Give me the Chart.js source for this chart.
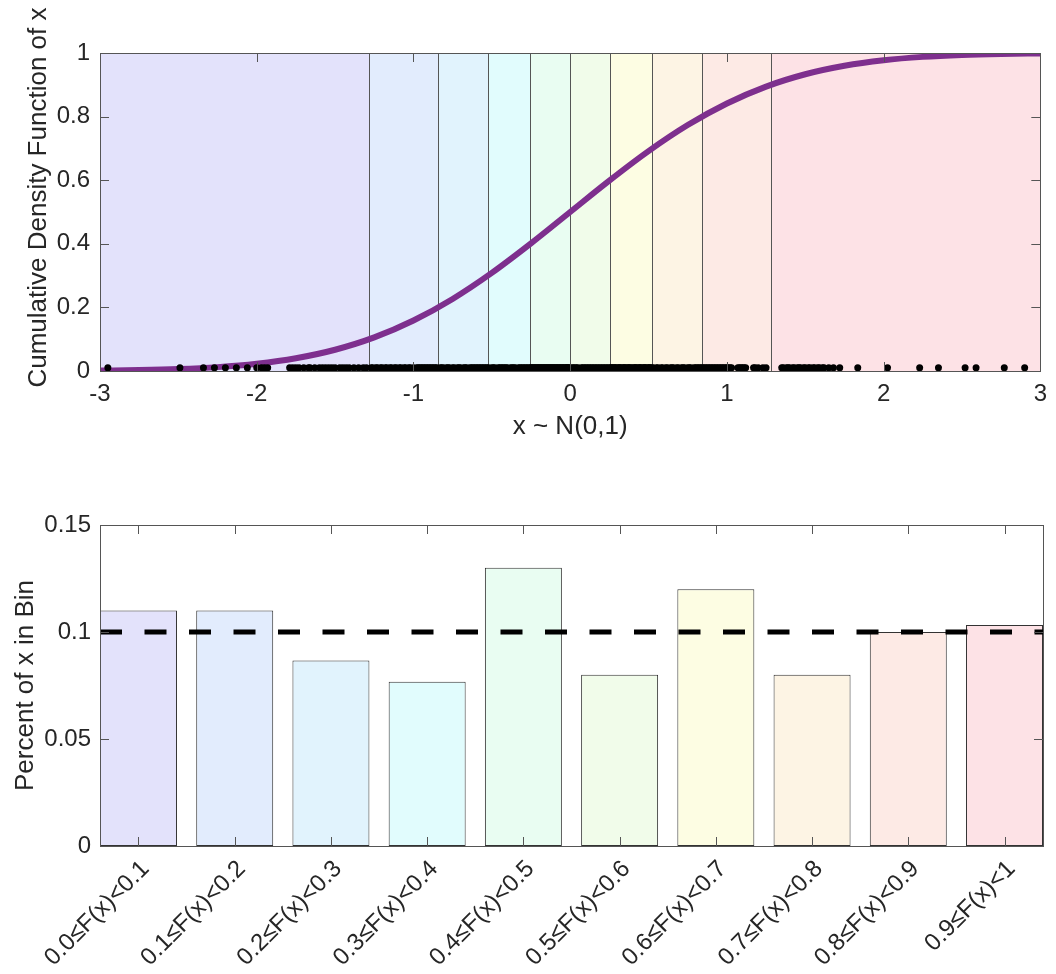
<!DOCTYPE html>
<html>
<head>
<meta charset="utf-8">
<title>Probability integral transform</title>
<script src="https://cdn.jsdelivr.net/npm/chart.js@4.4.1/dist/chart.umd.min.js"></script>
<style>
  html, body { margin: 0; padding: 0; background: #fff; }
  #wrap { position: relative; width: 1056px; height: 974px; }
  canvas { position: absolute; left: 0; }
  #cdfChart { top: 0; }
  #binChart { top: 460px; }
</style>
</head>
<body>
<div id="wrap">
  <canvas id="cdfChart" width="1056" height="460"></canvas>
  <canvas id="binChart" width="1056" height="514"></canvas>
</div>
<script>
// 299 draws of x ~ N(0,1), shown as dots along the bottom of the CDF panel
const samples = [
  -2.95, -2.49, -2.34, -2.27, -2.20, -2.13, -2.06, -2.00, -1.97, -1.95, -1.93,
  -1.79, -1.77, -1.75, -1.73, -1.70, -1.67, -1.66, -1.63, -1.60, -1.58, -1.56,
  -1.54, -1.52, -1.50, -1.47, -1.45, -1.43, -1.41, -1.38, -1.35, -1.32, -1.30,
  -1.27, -1.26, -1.24, -1.23, -1.21, -1.20, -1.18, -1.17, -1.15, -1.14, -1.12,
  -1.11, -1.09, -1.08, -1.06, -1.05, -1.03, -1.02, -1.00, -0.98, -0.97, -0.96,
  -0.95, -0.94, -0.93, -0.92, -0.91, -0.90, -0.89, -0.88, -0.87, -0.86, -0.85,
  -0.83, -0.82, -0.81, -0.79, -0.78, -0.77, -0.75, -0.74, -0.72, -0.71, -0.70,
  -0.68, -0.67, -0.66, -0.64, -0.63, -0.62, -0.61, -0.60, -0.59, -0.58, -0.57,
  -0.56, -0.55, -0.54, -0.53,
  -0.52, -0.50, -0.49, -0.48, -0.46, -0.45, -0.44, -0.43, -0.42, -0.41, -0.40,
  -0.38, -0.37, -0.36, -0.35, -0.33, -0.32, -0.31, -0.30, -0.29, -0.28, -0.27, -0.26,
  -0.25, -0.245, -0.24, -0.23, -0.225, -0.22, -0.21, -0.205, -0.20, -0.19, -0.185,
  -0.18, -0.17, -0.165, -0.16, -0.15, -0.145, -0.14, -0.13, -0.125, -0.12, -0.11,
  -0.105, -0.10, -0.09, -0.085, -0.08, -0.07, -0.065, -0.06, -0.05, -0.045, -0.04,
  -0.03, -0.025, -0.02, -0.015, -0.01, -0.005,
  0.01, 0.02, 0.03, 0.04, 0.05, 0.07, 0.08, 0.09, 0.10, 0.11, 0.12, 0.13, 0.14,
  0.15, 0.16, 0.17, 0.18, 0.19, 0.20, 0.21, 0.22, 0.23, 0.24, 0.25,
  0.26, 0.265, 0.27, 0.28, 0.285, 0.29, 0.30, 0.31, 0.315, 0.32, 0.33, 0.34,
  0.345, 0.35, 0.36, 0.37, 0.375, 0.38, 0.39, 0.40, 0.41, 0.415, 0.42, 0.43,
  0.44, 0.445, 0.45, 0.46, 0.47, 0.475, 0.48, 0.49, 0.50, 0.505, 0.51, 0.52,
  0.53, 0.55, 0.56, 0.58, 0.59, 0.61, 0.62, 0.64, 0.65, 0.66, 0.68, 0.69,
  0.71, 0.72, 0.73, 0.75, 0.76, 0.77, 0.79, 0.80, 0.81, 0.82, 0.83, 0.84,
  0.85, 0.86, 0.87, 0.88, 0.89, 0.90, 0.91, 0.92, 0.93, 0.94, 0.95, 0.96,
  0.97, 0.98, 0.99, 1.00, 1.01, 1.02, 1.03, 1.07, 1.08, 1.09, 1.10, 1.11,
  1.12, 1.17, 1.18, 1.20, 1.23, 1.25,
  1.35, 1.36, 1.38, 1.39, 1.40, 1.42, 1.43, 1.45, 1.46, 1.47, 1.49, 1.50,
  1.52, 1.53, 1.55, 1.56, 1.58, 1.59, 1.61, 1.62, 1.65, 1.68, 1.72,
  1.835, 2.025, 2.23, 2.35, 2.52, 2.59, 2.77, 2.90
];
const dotLevel = 0.01;

// standard normal CDF, tabulated every quarter unit
const cdfX = [-3, -2.75, -2.5, -2.25, -2, -1.75, -1.5, -1.25, -1, -0.75, -0.5, -0.25,
  0, 0.25, 0.5, 0.75, 1, 1.25, 1.5, 1.75, 2, 2.25, 2.5, 2.75, 3];
const cdfY = [0.0013, 0.0030, 0.0062, 0.0122, 0.0228, 0.0401, 0.0668, 0.1056, 0.1587,
  0.2266, 0.3085, 0.4013, 0.5, 0.5987, 0.6915, 0.7734, 0.8413, 0.8944, 0.9332,
  0.9599, 0.9772, 0.9878, 0.9938, 0.9970, 0.9987];

// decile edges of N(0,1) and the shade used for each bin
const binEdges = [-3, -1.2816, -0.8416, -0.5244, -0.2533, 0, 0.2533, 0.5244, 0.8416, 1.2816, 3];
const binColors = ['#e3e2fb', '#e2ecfd', '#e1f3fd', '#e1fcfd', '#e9fdf2',
  '#f1fcea', '#fdfde3', '#fdf4e4', '#fdeae5', '#fde2e6'];

const binLabels = ['0.0≤F(x)<0.1', '0.1≤F(x)<0.2', '0.2≤F(x)<0.3', '0.3≤F(x)<0.4',
  '0.4≤F(x)<0.5', '0.5≤F(x)<0.6', '0.6≤F(x)<0.7', '0.7≤F(x)<0.8',
  '0.8≤F(x)<0.9', '0.9≤F(x)<1'];
const binShare = [0.11, 0.11, 0.0867, 0.0767, 0.13, 0.08, 0.12, 0.08, 0.10, 0.1033];
const expectedShare = 0.1;

const cdfXTicks = [-3, -2, -1, 0, 1, 2, 3];
const cdfYTicks = [0, 0.2, 0.4, 0.6, 0.8, 1];
const shareTicks = [0, 0.05, 0.1, 0.15];

Chart.defaults.font.family = '"Liberation Sans", Arial, Helvetica, sans-serif';
Chart.defaults.color = '#262626';

const edgeColor = '#555';
const tickLen = 9;

// axes box with inward tick marks on all four sides
const boxAxes = {
  id: 'boxAxes',
  afterDatasetsDraw(chart) {
    const { ctx, chartArea: a, scales: { x, y } } = chart;
    ctx.save();
    ctx.strokeStyle = edgeColor;
    ctx.lineWidth = 1;
    ctx.beginPath();
    x.ticks.forEach((t, i) => {
      const px = Math.round(x.getPixelForTick(i)) + 0.5;
      ctx.moveTo(px, a.bottom); ctx.lineTo(px, a.bottom - tickLen);
      ctx.moveTo(px, a.top); ctx.lineTo(px, a.top + tickLen);
    });
    y.ticks.forEach((t, i) => {
      const py = Math.round(y.getPixelForTick(i)) + 0.5;
      ctx.moveTo(a.left, py); ctx.lineTo(a.left + tickLen, py);
      ctx.moveTo(a.right, py); ctx.lineTo(a.right - tickLen, py);
    });
    ctx.stroke();
    ctx.strokeRect(Math.round(a.left) + 0.5, Math.round(a.top) + 0.5,
      Math.round(a.right - a.left), Math.round(a.bottom - a.top));
    ctx.restore();
  }
};

// shaded bins behind the CDF, split at the deciles
const bandShading = {
  id: 'bandShading',
  beforeDatasetsDraw(chart) {
    const { ctx, chartArea: a, scales: { x } } = chart;
    ctx.save();
    for (let i = 0; i < binColors.length; i++) {
      const x0 = x.getPixelForValue(binEdges[i]);
      const x1 = x.getPixelForValue(binEdges[i + 1]);
      ctx.fillStyle = binColors[i];
      ctx.fillRect(x0, a.top, x1 - x0, a.bottom - a.top);
    }
    ctx.strokeStyle = edgeColor;
    ctx.lineWidth = 1;
    ctx.beginPath();
    for (let i = 1; i < binEdges.length - 1; i++) {
      const px = Math.round(x.getPixelForValue(binEdges[i])) + 0.5;
      ctx.moveTo(px, a.top); ctx.lineTo(px, a.bottom);
    }
    ctx.stroke();
    ctx.restore();
  }
};

// dashed reference line at the uniform share
const expectedLine = {
  id: 'expectedLine',
  afterDatasetsDraw(chart) {
    const { ctx, chartArea: a, scales: { y } } = chart;
    const py = y.getPixelForValue(expectedShare);
    ctx.save();
    ctx.strokeStyle = '#000';
    ctx.lineWidth = 5;
    ctx.setLineDash([22, 22.5]);
    ctx.beginPath();
    ctx.moveTo(a.left, py);
    ctx.lineTo(a.right, py);
    ctx.stroke();
    ctx.restore();
  }
};

const tickFont = { size: 24 };
const titleFont = { size: 26 };
const fixedTicks = list => scale => { scale.ticks = list.map(v => ({ value: v })); };
const plainNumber = v => String(+Number(v).toFixed(4));

new Chart(document.getElementById('cdfChart'), {
  type: 'scatter',
  data: {
    datasets: [
      {
        type: 'scatter',
        data: samples.map(v => ({ x: v, y: dotLevel })),
        pointRadius: 3.5,
        pointBorderWidth: 0,
        backgroundColor: '#000',
        pointBackgroundColor: '#000'
      },
      {
        type: 'line',
        data: cdfX.map((v, i) => ({ x: v, y: cdfY[i] })),
        borderColor: '#7E2F8E',
        borderWidth: 6,
        pointRadius: 0,
        cubicInterpolationMode: 'monotone',
        fill: false
      }
    ]
  },
  options: {
    responsive: false,
    animation: false,
    devicePixelRatio: 1,
    layout: { padding: { top: 53, right: 13, left: 0, bottom: 0 } },
    plugins: { legend: { display: false }, tooltip: { enabled: false } },
    scales: {
      x: {
        type: 'linear', min: -3, max: 3,
        grid: { display: false, drawTicks: false },
        border: { display: false },
        afterBuildTicks: fixedTicks(cdfXTicks),
        ticks: { font: tickFont, padding: 9, callback: plainNumber },
        title: { display: true, text: 'x ~ N(0,1)', font: titleFont, padding: { top: 0, bottom: 18 } },
        afterFit: s => { s.height = 89; }
      },
      y: {
        min: 0, max: 1,
        grid: { display: false, drawTicks: false },
        border: { display: false },
        afterBuildTicks: fixedTicks(cdfYTicks),
        ticks: { font: tickFont, padding: 10, callback: plainNumber },
        title: { display: true, text: '    Cumulative Density Function of x', font: titleFont, padding: { top: 23, bottom: 0 } },
        afterFit: s => { s.width = 100; }
      }
    }
  },
  plugins: [bandShading, boxAxes]
});

// bins sit at positions 1..10 on a tight linear axis, bar width 0.8
new Chart(document.getElementById('binChart'), {
  type: 'bar',
  data: {
    datasets: [{
      data: binShare.map((v, i) => ({ x: i + 1, y: v })),
      backgroundColor: binColors,
      borderColor: '#333',
      borderWidth: 1,
      borderSkipped: false,
      barPercentage: 0.8,
      categoryPercentage: 1
    }]
  },
  options: {
    responsive: false,
    animation: false,
    devicePixelRatio: 1,
    layout: { padding: { top: 65, right: 13, left: 0, bottom: 0 } },
    plugins: { legend: { display: false }, tooltip: { enabled: false } },
    scales: {
      x: {
        type: 'linear', min: 0.6, max: 10.4, offset: false,
        grid: { display: false, drawTicks: false },
        border: { display: false },
        afterBuildTicks: fixedTicks(binLabels.map((l, i) => i + 1)),
        ticks: {
          font: tickFont, minRotation: 45, maxRotation: 45, autoSkip: false,
          padding: 9, labelOffset: 7,
          callback: v => binLabels[Math.round(v) - 1]
        },
        afterFit: s => { s.height = 128; }
      },
      y: {
        min: 0, max: 0.15,
        grid: { display: false, drawTicks: false },
        border: { display: false },
        afterBuildTicks: fixedTicks(shareTicks),
        ticks: { font: tickFont, padding: 9, callback: plainNumber },
        title: { display: true, text: 'Percent of x in Bin', font: titleFont, padding: { top: 10, bottom: 0 } },
        afterFit: s => { s.width = 100; }
      }
    }
  },
  plugins: [expectedLine, boxAxes]
});
</script>
</body>
</html>
